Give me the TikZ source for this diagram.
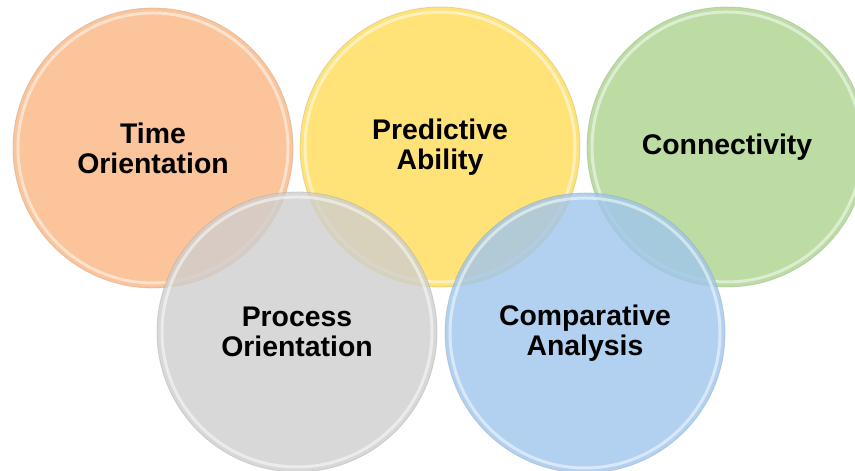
\documentclass[tikz,border=0pt]{standalone}
\usepackage{fontspec}
\setmainfont{Liberation Sans}
\definecolor{peach}{RGB}{250,181,129}
\definecolor{butter}{RGB}{255,219,86}
\definecolor{sage}{RGB}{171,211,141}
\definecolor{silver}{RGB}{206,206,206}
\definecolor{sky}{RGB}{159,197,237}

\begin{document}
\begin{tikzpicture}[x=1bp, y=1bp,
    bubble/.style={circle, minimum size=280bp, inner sep=0pt, align=center,
      fill=#1, fill opacity=.8, text opacity=1,
      draw=#1!45!gray, draw opacity=.4, line width=.8bp,
      font=\fontsize{28.5}{30}\selectfont\bfseries,
      path picture={\draw[white, draw opacity=.5, line width=3bp]
        (path picture bounding box.center) circle[radius=135bp];}}]
  \clip (0,0) rectangle (855,471);

  % top row
  \node[bubble=peach]  (time)  at (153,323) {Time\\Orientation};
  \node[bubble=butter] (pred)  at (440,324) {Predictive\\Ability};
  \node[bubble=sage]   (conn)  at (727,324) {Connectivity};

  % bottom row
  \node[bubble=silver] (proc)  at (297,139) {Process\\Orientation};
  \node[bubble=sky]    (comp)  at (585,138) {Comparative\\Analysis};
\end{tikzpicture}
\end{document}
